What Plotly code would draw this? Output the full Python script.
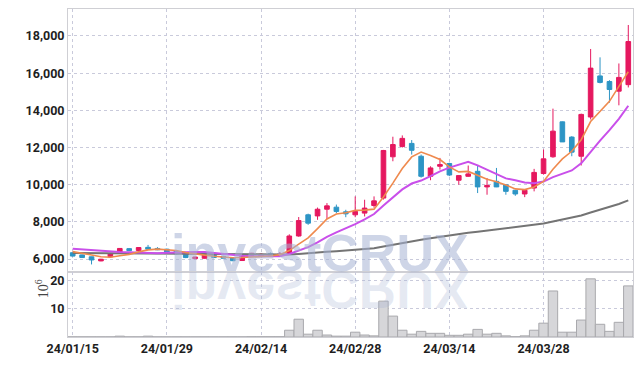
import plotly.graph_objects as go
from plotly.subplots import make_subplots

dates = ["24/01/15", "24/01/16", "24/01/17", "24/01/18", "24/01/19", "24/01/22", "24/01/23", "24/01/24",
         "24/01/25", "24/01/26", "24/01/29", "24/01/30", "24/01/31", "24/02/01", "24/02/02", "24/02/05",
         "24/02/06", "24/02/07", "24/02/08", "24/02/13", "24/02/14", "24/02/15", "24/02/16", "24/02/19",
         "24/02/20", "24/02/21", "24/02/22", "24/02/23", "24/02/26", "24/02/27", "24/02/28", "24/02/29",
         "24/03/04", "24/03/05", "24/03/06", "24/03/07", "24/03/08", "24/03/11", "24/03/12", "24/03/13",
         "24/03/14", "24/03/15", "24/03/18", "24/03/19", "24/03/20", "24/03/21", "24/03/22", "24/03/25",
         "24/03/26", "24/03/27", "24/03/28", "24/03/29", "24/04/01", "24/04/02", "24/04/03", "24/04/04",
         "24/04/05", "24/04/08", "24/04/09", "24/04/11"]

opens = [6340, 6220, 6120, 5900, 6120, 6370, 6560, 6460, 6630, 6570, 6530, 6410, 6320, 6020, 6040, 6220,
         6150, 6080, 5920, 6200, 6150, 6300, 6200, 6270, 7240, 8380, 8320, 8680, 8790, 8540, 8380, 8470,
         8880, 9280, 11500, 12050, 12220, 11530, 10450, 10990, 11140, 10240, 10450, 10720, 9880, 10180,
         9990, 9700, 9500, 9820, 10600, 11500, 13380, 12560, 11530, 13640, 15850, 15550, 15030, 15380]
highs = [6360, 6240, 6130, 6010, 6310, 6590, 6580, 6640, 6760, 6640, 6560, 6430, 6340, 6120, 6230, 6240,
         6170, 6100, 6170, 6330, 6320, 6350, 6380, 7330, 8260, 8440, 8770, 9010, 8930, 8650, 9370, 9190,
         9370, 11870, 12580, 12650, 12400, 11620, 10990, 11440, 11180, 10500, 11030, 11030, 10360, 10900,
         10010, 9720, 9720, 10850, 11890, 14090, 13400, 12610, 13820, 17300, 16850, 15620, 16520, 18590]
lows = [6140, 6060, 5710, 5880, 6110, 6360, 6430, 6450, 6510, 6480, 6340, 6250, 6050, 6000, 6020, 6060,
        6020, 5890, 5900, 6180, 6130, 6170, 6180, 6230, 7200, 7840, 8110, 8150, 8470, 8250, 8250, 8290,
        8760, 9200, 11260, 12000, 11620, 10380, 10240, 10810, 10460, 10000, 10420, 9550, 9460, 9870,
        9460, 9400, 9330, 9640, 10540, 11450, 12300, 11530, 11030, 13510, 15450, 14410, 14270, 15230]
closes = [6160, 6080, 5950, 5990, 6290, 6570, 6450, 6620, 6530, 6500, 6370, 6280, 6080, 6110, 6220, 6080,
          6040, 5910, 6160, 6310, 6260, 6190, 6270, 7240, 8070, 7930, 8680, 8860, 8560, 8430, 8560, 8740,
          9130, 11840, 12160, 12490, 11850, 10450, 10900, 11080, 10520, 10490, 10580, 9880, 9960, 9880,
          9640, 9500, 9700, 10660, 11390, 12880, 12300, 11750, 13780, 16270, 15500, 15120, 15770, 17700]

volume_m = [0.05, 0.05, 0.05, 0.05, 0.05, 0.3, 0.05, 0.05, 0.3, 0.05, 0.05, 0.05, 0.05, 0.05, 0.05, 0.05,
            0.05, 0.05, 0.05, 0.1, 0.1, 0.1, 0.1, 2.4, 6.3, 1.0, 2.4, 0.7, 0.3, 0.3, 1.7, 0.7,
            0.4, 12.7, 7.4, 2.4, 1.0, 2.0, 1.3, 1.3, 0.6, 0.6, 1.0, 2.7, 1.0, 1.3, 0.4, 0.1,
            0.4, 2.4, 4.9, 16.3, 1.7, 1.7, 6.0, 20.6, 4.5, 2.0, 5.2, 18.1]

ma5 = [6400, 6330, 6220, 6120, 6094, 6176, 6250, 6384, 6492, 6534, 6494, 6460, 6352, 6268, 6212, 6154,
       6106, 6072, 6082, 6100, 6136, 6166, 6238, 6454, 6806, 7140, 7638, 8156, 8420, 8492, 8618, 8630,
       8684, 9340, 10086, 10872, 11494, 11758, 11570, 11354, 10960, 10688, 10714, 10510, 10286, 10158,
       9988, 9772, 9736, 9876, 10178, 10826, 11386, 11796, 12420, 13396, 13920, 14484, 15288, 16072]
ma10 = [6560, 6520, 6470, 6430, 6400, 6380, 6360, 6340, 6330, 6314, 6335, 6355, 6368, 6380, 6373, 6324,
        6283, 6212, 6175, 6156, 6145, 6136, 6155, 6268, 6453, 6638, 6902, 7197, 7437, 7649, 7879, 8134,
        8420, 8880, 9289, 9745, 10062, 10221, 10455, 10720, 10916, 11091, 11236, 11040, 10820, 10559,
        10338, 10243, 10123, 10081, 10168, 10407, 10579, 10765, 11147, 11786, 12372, 12934, 13541, 14245]
ma60 = [6330, 6325, 6318, 6310, 6305, 6300, 6296, 6292, 6288, 6284, 6280, 6275, 6270, 6265, 6260, 6255,
        6250, 6244, 6240, 6238, 6236, 6234, 6232, 6247, 6277, 6304, 6344, 6387, 6425, 6460, 6498, 6539,
        6586, 6678, 6776, 6879, 6972, 7041, 7118, 7198, 7268, 7338, 7409, 7469, 7530, 7590, 7646, 7699,
        7756, 7829, 7914, 8024, 8124, 8215, 8339, 8505, 8658, 8805, 8963, 9153]

x_tick_labels = ["24/01/15", "24/01/29", "24/02/14", "24/02/28", "24/03/14", "24/03/28"]
price_ticks = [6000, 8000, 10000, 12000, 14000, 16000, 18000]
volume_ticks = [10, 20]

RED = "#e5185f"
BLUE = "#2d95c5"
GRID = "#c9cadb"
FRAME = "#cfcfd4"
TICKFONT = dict(family="Roboto, sans-serif", size=12.5, color="#1e1e1e", weight="bold")

fig = make_subplots(rows=2, cols=1, shared_xaxes=True, vertical_spacing=0)

fig.add_trace(go.Candlestick(
    x=dates, open=opens, high=highs, low=lows, close=closes,
    increasing=dict(line=dict(color=RED, width=1), fillcolor=RED),
    decreasing=dict(line=dict(color=BLUE, width=1), fillcolor=BLUE),
    whiskerwidth=0, showlegend=False, hoverinfo="skip"), row=1, col=1)

fig.add_trace(go.Scatter(x=dates, y=ma60, mode="lines", line=dict(color="#747474", width=2),
                         showlegend=False, hoverinfo="skip"), row=1, col=1)
fig.add_trace(go.Scatter(x=dates, y=ma10, mode="lines", line=dict(color="#c94fea", width=2),
                         showlegend=False, hoverinfo="skip"), row=1, col=1)
fig.add_trace(go.Scatter(x=dates, y=ma5, mode="lines", line=dict(color="#ef8a4e", width=1.6),
                         showlegend=False, hoverinfo="skip"), row=1, col=1)

fig.add_trace(go.Bar(x=dates, y=volume_m, marker=dict(color="#d6d6d9", line=dict(color="#a9a9ad", width=1)),
                     showlegend=False, hoverinfo="skip"), row=2, col=1)

common_x = dict(type="category", categoryorder="array", categoryarray=dates, range=[-0.5, 59.5],
                tickmode="array", tickvals=x_tick_labels, ticktext=x_tick_labels,
                showgrid=True, gridcolor=GRID, griddash="dot", gridwidth=1,
                showline=True, linecolor=FRAME, mirror=True, ticks="", zeroline=False,
                automargin=False, rangeslider=dict(visible=False), tickfont=TICKFONT)

fig.update_layout(
    width=642, height=366,
    margin=dict(l=68, r=9, t=9, b=29),
    paper_bgcolor="white", plot_bgcolor="white",
    bargap=0,
    hovermode=False,
    xaxis=dict(common_x, showticklabels=False),
    xaxis2=dict(common_x, showticklabels=True),
    yaxis=dict(domain=[0.198, 1], range=[5300, 19450], tickvals=price_ticks, tickformat=",d",
               showgrid=True, gridcolor=GRID, griddash="dot", showline=True, linecolor=FRAME, mirror=True,
               zeroline=False, ticks="", automargin=False, tickfont=TICKFONT),
    yaxis2=dict(domain=[0, 0.198], range=[0, 23], tickvals=volume_ticks,
                showgrid=True, gridcolor=GRID, griddash="dot", showline=True, linecolor=FRAME, mirror=True,
                zeroline=False, ticks="", automargin=False, tickfont=TICKFONT),
    annotations=[
        dict(text="investCRUX", xref="paper", yref="paper", x=0.446, y=0.162, yanchor="bottom",
             showarrow=False, font=dict(family="Liberation Sans, Arial, sans-serif", size=52,
                                         color="rgba(165,178,212,0.55)", weight="bold")),
        dict(text="investCRUX", xref="paper", yref="paper", x=0.446, y=0.238, yanchor="top",
             showarrow=False, font=dict(family="Liberation Sans, Arial, sans-serif", size=52,
                                         color="rgba(165,178,212,0.28)", weight="bold")),
        dict(text="10<sup>6</sup>", xref="paper", yref="paper", x=-0.064, y=0.113, textangle=-90,
             showarrow=False, font=dict(family="Liberation Serif, serif", size=14, color="#444")),
    ],
)

flip_js = """
document.body.style.margin = '0';
var gd = document.querySelectorAll('.annotation');
gd.forEach(function(g){
  if (g.getAttribute('data-index') === '1') {
    var t = g.querySelector('text.annotation-text');
    if (t) { t.style.transformBox = 'fill-box'; t.style.transformOrigin = 'center'; t.style.transform = 'scaleY(-1)'; }
  }
});
"""

fig.write_html("out.html", post_script=flip_js, config={"displayModeBar": False, "staticPlot": True})
